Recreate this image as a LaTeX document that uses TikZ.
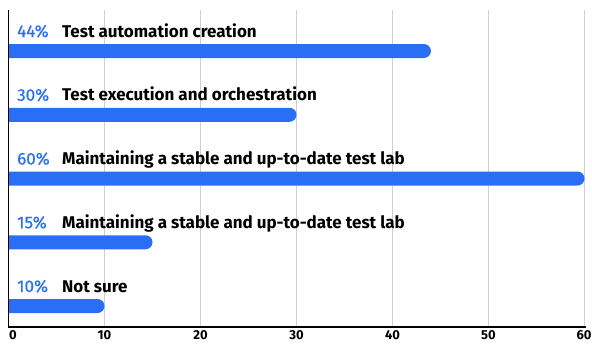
\documentclass[tikz,border=0pt]{standalone}
\usepackage{fontspec}
\setmainfont{Fira Sans}
\newfontfamily\pctfont[FakeBold=0.5]{Fira Sans}
\definecolor{barblue}{HTML}{2A6EF5}
\definecolor{gridgray}{HTML}{CFCFCF}
\begin{document}
\begin{tikzpicture}[x=1pt,y=-1pt,
    bar/.style={fill=barblue},
    pct label/.style={anchor=base west,inner sep=0pt,text=barblue,font=\fontsize{17}{17}\pctfont},
    item label/.style={anchor=base west,inner sep=0pt,font=\fontsize{17}{17}\selectfont\bfseries},
    tick label/.style={anchor=base,inner sep=0pt,font=\fontsize{13}{13}\selectfont\bfseries}]
  \useasboundingbox (0,0) rectangle (592,343);

  % grid lines
  \foreach \v in {10,20,...,60}
    \draw[gridgray,line width=1pt] (8.5+9.6*\v,10) -- (8.5+9.6*\v,327);

  % bars and their labels
  \foreach \v/\txt [count=\i] in {44/Test automation creation,
      30/Test execution and orchestration,
      60/Maintaining a stable and up-to-date test lab,
      15/Maintaining a stable and up-to-date test lab,
      10/Not sure} {
    \pgfmathsetmacro\yc{51+63.75*(\i-1)}
    \fill[bar] (8.5,\yc-7) -- (8.5+9.6*\v-7,\yc-7)
      arc[start angle=-90,end angle=90,radius=7] -- (8.5,\yc+7) -- cycle;
    \node[pct label] (pct\i) at (17,\yc-14) {\v\%};
    \node[item label] (item\i) at (62,\yc-14) {\txt};
  }

  % axes
  \draw[line width=1.5pt] (8.5,10) -- (8.5,327) -- (585.5,327);
  \node[tick label] (tick0) at (13,339) {0};
  \foreach \v in {10,20,...,50}
    \node[tick label] (tick\v) at (8.5+9.6*\v,339) {\v};
  \node[tick label] (tick60) at (584,339) {60};
\end{tikzpicture}
\end{document}
